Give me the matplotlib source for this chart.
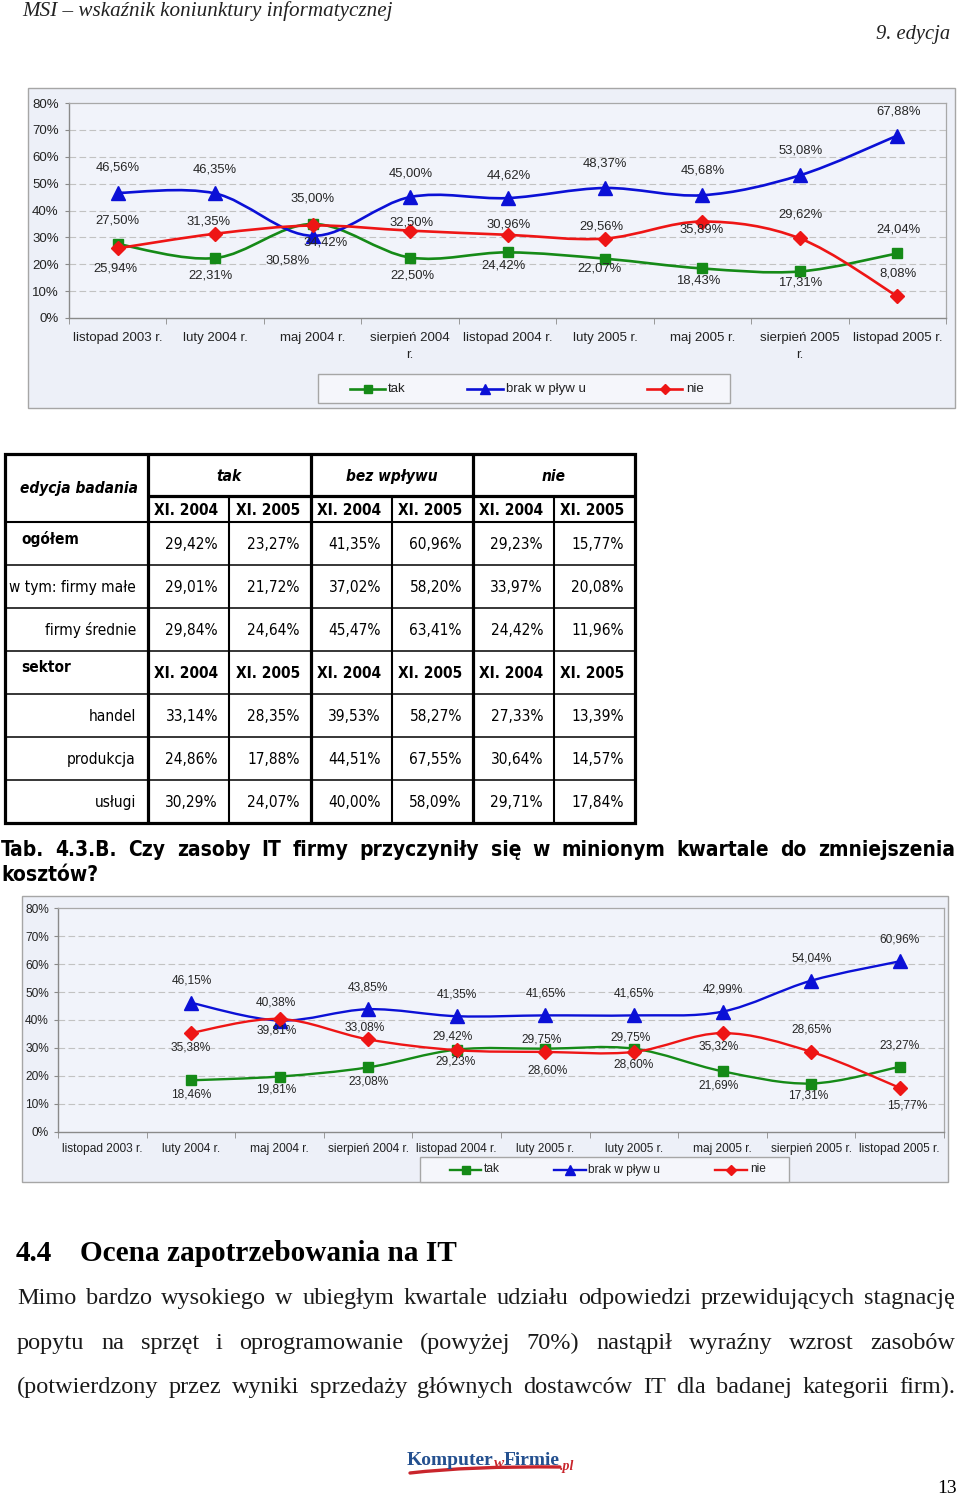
import numpy as np
import matplotlib
matplotlib.use('Agg')
import matplotlib.pyplot as plt
from matplotlib.path import Path
from matplotlib.patches import PathPatch, Rectangle
from matplotlib.lines import Line2D
from matplotlib import font_manager as fm

# ---------------- data ----------------
cats1 = ['listopad 2003 r.', 'luty 2004 r.', 'maj 2004 r.', 'sierpień 2004\nr.',
         'listopad 2004 r.', 'luty 2005 r.', 'maj 2005 r.', 'sierpień 2005\nr.',
         'listopad 2005 r.']
tak1 = [27.50, 22.31, 35.00, 22.50, 24.42, 22.07, 18.43, 17.31, 24.04]
brak1 = [46.56, 46.35, 30.58, 45.00, 44.62, 48.37, 45.68, 53.08, 67.88]
nie1 = [25.94, 31.35, 34.42, 32.50, 30.96, 29.56, 35.89, 29.62, 8.08]

cats2 = ['listopad 2003 r.', 'luty 2004 r.', 'maj 2004 r.', 'sierpień 2004 r.',
         'listopad 2004 r.', 'luty 2005 r.', 'luty 2005 r.', 'maj 2005 r.',
         'sierpień 2005 r.', 'listopad 2005 r.']
nan = float('nan')
tak2 = [nan, 18.46, 19.81, 23.08, 29.42, 29.75, 29.75, 21.69, 17.31, 23.27]
brak2 = [nan, 46.15, 39.81, 43.85, 41.35, 41.65, 41.65, 42.99, 54.04, 60.96]
nie2 = [nan, 35.38, 40.38, 33.08, 29.23, 28.60, 28.60, 35.32, 28.65, 15.77]

series_names = ['tak', 'brak w pływ u', 'nie']

tab_groups = ['tak', 'bez wpływu', 'nie']
tab_periods = ['XI. 2004', 'XI. 2005']
tab_rows = ['ogółem', 'w tym: firmy małe', 'firmy średnie', 'handel', 'produkcja', 'usługi']
tak_2004 = [29.42, 29.01, 29.84, 33.14, 24.86, 30.29]
tak_2005 = [23.27, 21.72, 24.64, 28.35, 17.88, 24.07]
bez_2004 = [41.35, 37.02, 45.47, 39.53, 44.51, 40.00]
bez_2005 = [60.96, 58.20, 63.41, 58.27, 67.55, 58.09]
nie_2004 = [29.23, 33.97, 24.42, 27.33, 30.64, 29.71]
nie_2005 = [15.77, 20.08, 11.96, 13.39, 14.57, 17.84]

# ---------------- label offsets (pixels, dx, dy-down) : styling ----------------
off1_tak = [(0, -24), (-5, 17), (0, -25), (2, 18), (-4, 13), (-5, 10), (-4, 12), (0, 11), (1, -24)]
off1_brak = [(0, -25), (0, -24), (-25, 25), (1, -24), (1, -23), (0, -25), (0, -25), (1, -25), (1, -24)]
off1_nie = [(-2, 20), (-7, -12), (13, 17), (1, -8), (1, -10), (-4, -12), (-1, 8), (1, -24), (1, -23)]
off2_tak = [None, (0, 14), (-3, 13), (0, 14), (-4, -13), (-4, -9), (-3, -11), (-4, 14), (-3, 12), (0, -21)]
off2_brak = [None, (1, -22), (-3, 10), (0, -22), (0, -22), (1, -22), (0, -22), (0, -22), (1, -22), (0, -22)]
off2_nie = [None, (0, 15), (-4, -16), (-3, -12), (-1, 11), (2, 19), (0, 13), (-4, 13), (0, -22), (7, 18)]

W, H = 960, 1496
fig = plt.figure(figsize=(W / 100, H / 100), dpi=100)
fig.patch.set_facecolor('white')
R = fig.canvas.get_renderer()

ov = fig.add_axes([0, 0, 1, 1], zorder=0)
ov.set_xlim(0, W)
ov.set_ylim(H, 0)
ov.axis('off')

SANS = 'Liberation Sans'
SERIF = 'Liberation Serif'
entries = fm.fontManager.ttflist
names = {f.name for f in entries}


def has_cond(name):
    return any(f.name == name and 'condensed' in str(f.stretch) for f in entries)


if 'Liberation Sans Narrow' in names:
    TABF = dict(family='Liberation Sans Narrow')
elif has_cond('DejaVu Sans'):
    TABF = dict(family='DejaVu Sans', stretch='condensed')
else:
    TABF = dict(family='Liberation Sans')

if has_cond('DejaVu Sans'):
    CAPF = dict(family='DejaVu Sans', stretch='condensed', weight='bold')
else:
    CAPF = dict(family='DejaVu Sans', weight='bold')

GREEN, BLUE, RED = '#158a17', '#0b10d6', '#ee1515'
FRAME_BG, PLOT_BG = '#edf0f8', '#f1f3fa'
STYLES = [(GREEN, 's', 7.5), (BLUE, '^', 9.5), (RED, 'D', 7.0)]


def width_of(t):
    return t.get_window_extent(R).width


def fmt(v):
    return f'{v:.2f}'.replace('.', ',') + '%'


def smooth_path(xs, ys):
    P = np.array([(x, y) for x, y in zip(xs, ys) if not np.isnan(y)], float)
    n = len(P)
    verts = [P[0]]
    codes = [Path.MOVETO]
    for i in range(n - 1):
        p0 = P[i - 1] if i > 0 else P[i]
        p1, p2 = P[i], P[i + 1]
        p3 = P[i + 2] if i + 2 < n else P[i + 1]
        verts += [p1 + (p2 - p0) / 6.0, p2 - (p3 - p1) / 6.0, p2]
        codes += [Path.CURVE4] * 3
    return Path(verts, codes)


def draw_legend(box, items_x, fs, lw):
    lx0, ly0, lx1, ly1 = box
    ov.add_patch(Rectangle((lx0, ly0), lx1 - lx0, ly1 - ly0, facecolor='#f5f6fb',
                           edgecolor='#a6a6a6', lw=1.0, zorder=4))
    cy = (ly0 + ly1) / 2
    for (col, mk, msz), name, (h0, h1, tx) in zip(STYLES, series_names, items_x):
        ov.add_line(Line2D([h0, h1], [cy, cy], color=col, lw=lw, zorder=5))
        ov.add_line(Line2D([(h0 + h1) / 2], [cy], color=col, marker=mk, ms=msz * 0.7,
                           ls='none', zorder=6))
        ov.text(tx, cy, name, ha='left', va='center', fontsize=fs, family=SANS,
                color='#222222', zorder=6)


def draw_chart(frame, plot, cats, vals, offs, fs_tick, fs_lab, lw, xpad, ypad):
    x0, y0, x1, y1 = frame
    ov.add_patch(Rectangle((x0, y0), x1 - x0, y1 - y0, facecolor=FRAME_BG,
                           edgecolor='#a6a6a6', lw=1.0, zorder=1))
    px0, py0, px1, py1 = plot
    ax = fig.add_axes([px0 / W, 1 - py1 / H, (px1 - px0) / W, (py1 - py0) / H], zorder=2)
    ax.set_facecolor(PLOT_BG)
    n = len(cats)
    ax.set_xlim(-0.5, n - 0.5)
    ax.set_ylim(0, 80)
    ax.set_yticks(range(0, 81, 10))
    ax.set_yticklabels([f'{v}%' for v in range(0, 81, 10)], fontfamily=SANS)
    ax.set_xticks(range(n))
    ax.set_xticklabels(cats, fontfamily=SANS, linespacing=1.55)
    ax.set_xticks(np.arange(-0.5, n), minor=True)
    ax.tick_params(axis='x', which='major', length=0, pad=xpad, labelsize=fs_tick,
                   labelcolor='#222222')
    ax.tick_params(axis='x', which='minor', length=4, color='#8a8a8a', direction='out')
    ax.tick_params(axis='y', length=3, color='#8a8a8a', pad=ypad, labelsize=fs_tick,
                   labelcolor='#222222')
    for v in range(10, 80, 10):
        ax.axhline(v, color='#c2c2c2', lw=0.8, ls=(0, (6, 3)), zorder=0.5)
    for s in ['left', 'bottom']:
        ax.spines[s].set_color('#8a8a8a')
        ax.spines[s].set_linewidth(1.0)
    for s in ['top', 'right']:
        ax.spines[s].set_color('#a8a8a8')
        ax.spines[s].set_linewidth(0.9)
    xs = np.arange(n)
    for (col, mk, msz), ys, oo in zip(STYLES, vals, offs):
        ys = np.array(ys, float)
        ax.add_patch(PathPatch(smooth_path(xs, ys), facecolor='none', edgecolor=col,
                               lw=lw, zorder=3, capstyle='round', joinstyle='round'))
        ax.plot(xs, ys, ls='none', marker=mk, ms=msz, color=col, mec=col, zorder=4)
        for x, v, o in zip(xs, ys, oo):
            if np.isnan(v) or o is None:
                continue
            ax.annotate(fmt(v), (x, v), xytext=(o[0], -o[1]), textcoords='offset pixels',
                        ha='center', va='center', fontsize=fs_lab, color='#262626',
                        family=SANS, zorder=5)
    return ax


# ---------------- header ----------------
t = ov.text(22, 16, 'MSI – wskaźnik koniunktury informatycznej', family=SERIF,
            style='italic', fontsize=14, va='baseline', ha='left', color='#222222')
t.set_fontsize(14 * 370 / width_of(t))
t = ov.text(950, 39, '9. edycja', family=SERIF, style='italic', fontsize=14,
            va='baseline', ha='right', color='#222222')
t.set_fontsize(14 * 74 / width_of(t))

# ---------------- chart 1 ----------------
draw_chart((28, 88, 955, 408), (69, 103, 946, 318), cats1, [tak1, brak1, nie1],
           [off1_tak, off1_brak, off1_nie], 9.5, 9.4, 1.9, 10, 4.5)
draw_legend((318, 374, 730, 403), [(350, 385, 388), (467, 503, 506), (647, 682, 686)], 9.5, 1.9)

# ---------------- table ----------------
col_x = [5, 148, 229, 311, 392, 473, 554, 635]
row_y = [454, 496, 522, 565, 608, 651, 694, 737, 780, 823]
THICK, MID, THIN = 2.3, 1.5, 1.1
ov.add_patch(Rectangle((col_x[0], row_y[0]), col_x[-1] - col_x[0], row_y[-1] - row_y[0],
                       fill=False, lw=THICK, edgecolor='black', zorder=3))
for xv in [148, 311, 473]:
    ov.plot([xv, xv], [row_y[0], row_y[-1]], color='black', lw=THICK, solid_capstyle='butt')
for xv in [229, 392, 554]:
    ov.plot([xv, xv], [row_y[1], row_y[-1]], color='black', lw=MID, solid_capstyle='butt')
ov.plot([148, 635], [496, 496], color='black', lw=THICK, solid_capstyle='butt')
ov.plot([5, 635], [522, 522], color='black', lw=MID, solid_capstyle='butt')
for yv in row_y[3:-1]:
    ov.plot([5, 635], [yv, yv], color='black', lw=THIN, solid_capstyle='butt')

ref = ov.text(0, 0, '29,42%', fontsize=14, **TABF)
TS = 14 * 53 / width_of(ref)
ref.remove()

ov.text(79, 488, 'edycja badania', ha='center', va='center', fontsize=TS,
        weight='bold', style='italic', **TABF)
for g, name in enumerate(tab_groups):
    cx = (col_x[1 + 2 * g] + col_x[3 + 2 * g]) / 2
    ov.text(cx, 476, name, ha='center', va='center', fontsize=TS, weight='bold',
            style='italic', **TABF)
for yy in [510, 673]:
    for c in range(6):
        ov.text(col_x[c + 2] - 11, yy, tab_periods[c % 2], ha='right', va='center',
                fontsize=TS, weight='bold', **TABF)
ov.text(21, 539, 'ogółem', ha='left', va='center', fontsize=TS, weight='bold', **TABF)
ov.text(21, 667, 'sektor', ha='left', va='center', fontsize=TS, weight='bold', **TABF)
val_rows_y = [544, 587, 630, 716, 759, 802]
cols = [tak_2004, tak_2005, bez_2004, bez_2005, nie_2004, nie_2005]
for r, (lab, yy) in enumerate(zip(tab_rows, val_rows_y)):
    if r > 0:
        ov.text(136, yy, lab, ha='right', va='center', fontsize=TS, **TABF)
    for c in range(6):
        ov.text(col_x[c + 2] - 11, yy, fmt(cols[c][r]), ha='right', va='center',
                fontsize=TS, **TABF)


# ---------------- justified text helper ----------------
def justify(line, x0, x1, y, size, **kw):
    words = line.split(' ')
    ts = [ov.text(x0, y, w, fontsize=size, va='baseline', ha='left', **kw) for w in words]
    ws = [width_of(t) for t in ts]
    gap = (x1 - x0 - sum(ws)) / (len(ws) - 1)
    x = x0
    for t, w in zip(ts, ws):
        t.set_x(x)
        x += w + gap


def natural(line, size, **kw):
    t = ov.text(0, 0, line, fontsize=size, **kw)
    w = width_of(t)
    t.remove()
    return w


cap1 = 'Tab. 4.3.B. Czy zasoby IT firmy przyczyniły się w minionym kwartale do zmniejszenia'
cs = 15.0
nw = natural(cap1, cs, **CAPF)
if nw > 948:
    cs = cs * 948 / nw
justify(cap1, 1, 955, 856, cs, color='black', **CAPF)
ov.text(1, 881, 'kosztów?', fontsize=cs, va='baseline', ha='left', color='black', **CAPF)

# ---------------- chart 2 ----------------
draw_chart((22, 896, 948, 1182), (58, 908, 944, 1132), cats2, [tak2, brak2, nie2],
           [off2_tak, off2_brak, off2_nie], 8.6, 8.6, 1.7, 8, 3.5)
draw_legend((420, 1157, 789, 1182), [(450, 481, 484), (554, 586, 588), (715, 747, 750)], 8.6, 1.7)

# ---------------- section heading ----------------
t = ov.text(80, 1261, 'Ocena zapotrzebowania na IT', family=SERIF, weight='bold',
            fontsize=21, va='baseline', ha='left', color='black')
hs = 21 * 376 / width_of(t)
t.set_fontsize(hs)
ov.text(16, 1261, '4.4', family=SERIF, weight='bold', fontsize=hs, va='baseline',
        ha='left', color='black')

para = ['Mimo bardzo wysokiego w ubiegłym kwartale udziału odpowiedzi przewidujących stagnację',
        'popytu na sprzęt i oprogramowanie (powyżej 70%) nastąpił wyraźny wzrost zasobów',
        '(potwierdzony przez wyniki sprzedaży głównych dostawców IT dla badanej kategorii firm).']
ps = 17.5
mx = max(natural(l, ps, family=SERIF) for l in para)
if mx > 928:
    ps = ps * 928 / mx
for line, yb in zip(para, [1304, 1349, 1393]):
    justify(line, 17, 955, yb, ps, family=SERIF, color='#1a1a1a')

# ---------------- logo & page number ----------------
LB, LR = '#24508f', '#c9252c'
x = 407
t = ov.text(x, 1465, 'Komputer', family=SERIF, weight='bold', fontsize=14,
            va='baseline', ha='left', color=LB)
x += width_of(t)
t = ov.text(x, 1467, 'w', family=SERIF, weight='bold', style='italic', fontsize=11,
            va='baseline', ha='left', color=LR)
x += width_of(t)
t = ov.text(x, 1465, 'Firmie', family=SERIF, weight='bold', fontsize=14,
            va='baseline', ha='left', color=LB)
x += width_of(t)
ov.text(x, 1470, '.pl', family=SERIF, weight='bold', style='italic', fontsize=10,
        va='baseline', ha='left', color=LR)
sw = Path([(410, 1473), (470, 1466), (x, 1467)], [Path.MOVETO, Path.CURVE3, Path.CURVE3])
ov.add_patch(PathPatch(sw, facecolor='none', edgecolor=LR, lw=2.4, capstyle='round'))
ov.text(957, 1493, '13', family=SERIF, fontsize=14, va='baseline', ha='right', color='black')

fig.savefig('out.png', dpi=100)
